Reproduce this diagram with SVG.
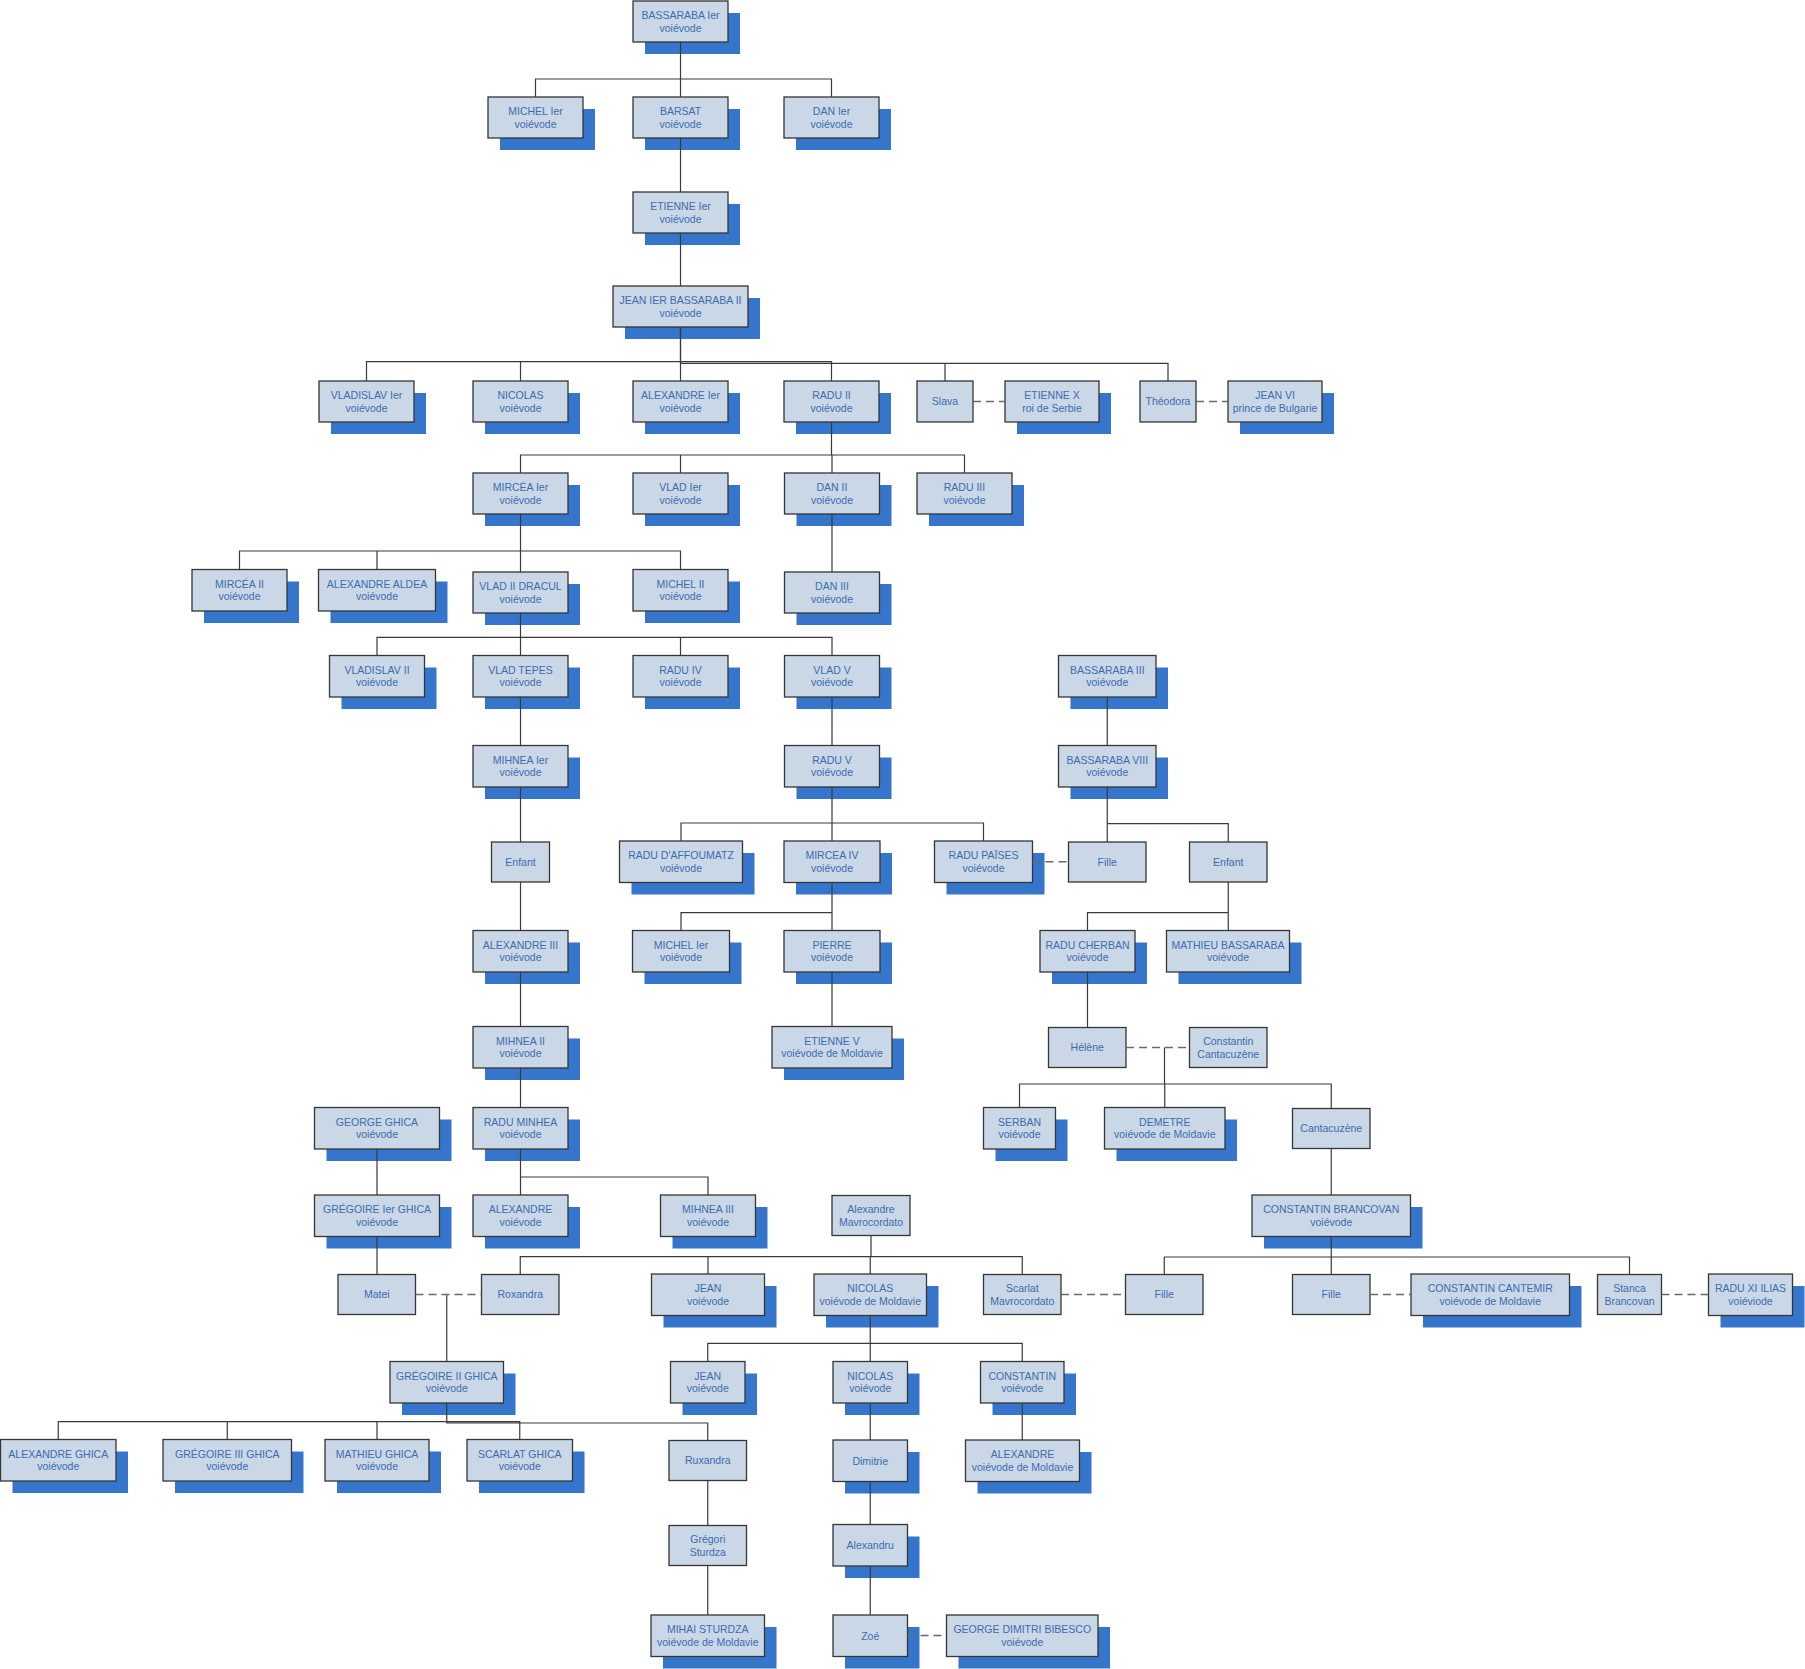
<svg xmlns="http://www.w3.org/2000/svg" width="1805" height="1669" viewBox="0 0 1805 1669">
<style>
.sh{fill:#3576cc}
.bx{fill:#c9d7e6;stroke:#353535;stroke-width:1.3}
text{font-family:"Liberation Sans",Arial,sans-serif;font-size:10.5px;fill:#3d6cb0;text-anchor:middle}
.c{fill:none;stroke:#3a3a3a;stroke-width:1.2}
.d{fill:none;stroke:#6a6a6a;stroke-width:1.4;stroke-dasharray:8,5}
</style>
<rect width="1805" height="1669" fill="#ffffff"/>
<g id="nodes">
<g id="n1"><rect class="sh" x="645" y="13" width="95" height="41"/><rect class="bx" x="633" y="1" width="95" height="41"/><text x="680.5" y="19">BASSARABA Ier</text><text x="680.5" y="31.5">voiévode</text></g>
<g id="n2"><rect class="sh" x="500" y="109" width="95" height="41"/><rect class="bx" x="488" y="97" width="95" height="41"/><text x="535.5" y="115">MICHEL Ier</text><text x="535.5" y="127.5">voiévode</text></g>
<g id="n3"><rect class="sh" x="645" y="109" width="95" height="41"/><rect class="bx" x="633" y="97" width="95" height="41"/><text x="680.5" y="115">BARSAT</text><text x="680.5" y="127.5">voiévode</text></g>
<g id="n4"><rect class="sh" x="796" y="109" width="95" height="41"/><rect class="bx" x="784" y="97" width="95" height="41"/><text x="831.5" y="115">DAN Ier</text><text x="831.5" y="127.5">voiévode</text></g>
<g id="n5"><rect class="sh" x="645" y="204" width="95" height="41"/><rect class="bx" x="633" y="192" width="95" height="41"/><text x="680.5" y="210">ETIENNE Ier</text><text x="680.5" y="222.5">voiévode</text></g>
<g id="n6"><rect class="sh" x="625" y="298" width="135" height="41"/><rect class="bx" x="613" y="286" width="135" height="41"/><text x="680.5" y="304">JEAN IER BASSARABA II</text><text x="680.5" y="316.5">voiévode</text></g>
<g id="n7"><rect class="sh" x="331" y="393" width="95" height="41"/><rect class="bx" x="319" y="381" width="95" height="41"/><text x="366.5" y="399">VLADISLAV Ier</text><text x="366.5" y="411.5">voiévode</text></g>
<g id="n8"><rect class="sh" x="485" y="393" width="95" height="41"/><rect class="bx" x="473" y="381" width="95" height="41"/><text x="520.5" y="399">NICOLAS</text><text x="520.5" y="411.5">voiévode</text></g>
<g id="n9"><rect class="sh" x="645" y="393" width="95" height="41"/><rect class="bx" x="633" y="381" width="95" height="41"/><text x="680.5" y="399">ALEXANDRE Ier</text><text x="680.5" y="411.5">voiévode</text></g>
<g id="n10"><rect class="sh" x="796" y="393" width="95" height="41"/><rect class="bx" x="784" y="381" width="95" height="41"/><text x="831.5" y="399">RADU II</text><text x="831.5" y="411.5">voiévode</text></g>
<g id="n11"><rect class="bx" x="917" y="381" width="56" height="41"/><text x="945" y="405.3">Slava</text></g>
<g id="n12"><rect class="sh" x="1017" y="393" width="94" height="41"/><rect class="bx" x="1005" y="381" width="94" height="41"/><text x="1052" y="399">ETIENNE X</text><text x="1052" y="411.5">roi de Serbie</text></g>
<g id="n13"><rect class="bx" x="1140" y="381" width="56" height="41"/><text x="1168" y="405.3">Théodora</text></g>
<g id="n14"><rect class="sh" x="1240" y="393" width="94" height="41"/><rect class="bx" x="1228" y="381" width="94" height="41"/><text x="1275" y="399">JEAN VI</text><text x="1275" y="411.5">prince de Bulgarie</text></g>
<g id="n15"><rect class="sh" x="485" y="485" width="95" height="41"/><rect class="bx" x="473" y="473" width="95" height="41"/><text x="520.5" y="491">MIRCÉA Ier</text><text x="520.5" y="503.5">voiévode</text></g>
<g id="n16"><rect class="sh" x="645" y="485" width="95" height="41"/><rect class="bx" x="633" y="473" width="95" height="41"/><text x="680.5" y="491">VLAD Ier</text><text x="680.5" y="503.5">voiévode</text></g>
<g id="n17"><rect class="sh" x="796.5" y="485" width="95" height="41"/><rect class="bx" x="784.5" y="473" width="95" height="41"/><text x="832" y="491">DAN II</text><text x="832" y="503.5">voiévode</text></g>
<g id="n18"><rect class="sh" x="929" y="485" width="95" height="41"/><rect class="bx" x="917" y="473" width="95" height="41"/><text x="964.5" y="491">RADU III</text><text x="964.5" y="503.5">voiévode</text></g>
<g id="n19"><rect class="sh" x="204" y="581.5" width="95" height="41.5"/><rect class="bx" x="192" y="569.5" width="95" height="41.5"/><text x="239.5" y="587.5">MIRCÉA II</text><text x="239.5" y="600">voiévode</text></g>
<g id="n20"><rect class="sh" x="330.5" y="581.5" width="117" height="41.5"/><rect class="bx" x="318.5" y="569.5" width="117" height="41.5"/><text x="377" y="587.5">ALEXANDRE ALDEA</text><text x="377" y="600">voiévode</text></g>
<g id="n21"><rect class="sh" x="485" y="584" width="95" height="41"/><rect class="bx" x="473" y="572" width="95" height="41"/><text x="520.5" y="590">VLAD II DRACUL</text><text x="520.5" y="602.5">voiévode</text></g>
<g id="n22"><rect class="sh" x="645" y="581.5" width="95" height="41.5"/><rect class="bx" x="633" y="569.5" width="95" height="41.5"/><text x="680.5" y="587.5">MICHEL II</text><text x="680.5" y="600">voiévode</text></g>
<g id="n23"><rect class="sh" x="796.5" y="584" width="95" height="41"/><rect class="bx" x="784.5" y="572" width="95" height="41"/><text x="832" y="590">DAN III</text><text x="832" y="602.5">voiévode</text></g>
<g id="n24"><rect class="sh" x="341.5" y="667.5" width="95" height="41.5"/><rect class="bx" x="329.5" y="655.5" width="95" height="41.5"/><text x="377" y="673.5">VLADISLAV II</text><text x="377" y="686">voiévode</text></g>
<g id="n25"><rect class="sh" x="485" y="667.5" width="95" height="41.5"/><rect class="bx" x="473" y="655.5" width="95" height="41.5"/><text x="520.5" y="673.5">VLAD TEPES</text><text x="520.5" y="686">voiévode</text></g>
<g id="n26"><rect class="sh" x="645" y="667.5" width="95" height="41.5"/><rect class="bx" x="633" y="655.5" width="95" height="41.5"/><text x="680.5" y="673.5">RADU IV</text><text x="680.5" y="686">voiévode</text></g>
<g id="n27"><rect class="sh" x="796.5" y="667.5" width="95" height="41.5"/><rect class="bx" x="784.5" y="655.5" width="95" height="41.5"/><text x="832" y="673.5">VLAD V</text><text x="832" y="686">voiévode</text></g>
<g id="n28"><rect class="sh" x="1070.5" y="667.5" width="97.5" height="41.5"/><rect class="bx" x="1058.5" y="655.5" width="97.5" height="41.5"/><text x="1107.25" y="673.5">BASSARABA III</text><text x="1107.25" y="686">voiévode</text></g>
<g id="n29"><rect class="sh" x="485" y="757.5" width="95" height="41.5"/><rect class="bx" x="473" y="745.5" width="95" height="41.5"/><text x="520.5" y="763.5">MIHNEA Ier</text><text x="520.5" y="776">voiévode</text></g>
<g id="n30"><rect class="sh" x="796.5" y="757.5" width="95" height="41.5"/><rect class="bx" x="784.5" y="745.5" width="95" height="41.5"/><text x="832" y="763.5">RADU V</text><text x="832" y="776">voiévode</text></g>
<g id="n31"><rect class="sh" x="1070.5" y="757.5" width="97.5" height="41.5"/><rect class="bx" x="1058.5" y="745.5" width="97.5" height="41.5"/><text x="1107.25" y="763.5">BASSARABA VIII</text><text x="1107.25" y="776">voiévode</text></g>
<g id="n32"><rect class="bx" x="491.5" y="842" width="58" height="40"/><text x="520.5" y="865.8">Enfant</text></g>
<g id="n33"><rect class="sh" x="631.5" y="853" width="123" height="41.5"/><rect class="bx" x="619.5" y="841" width="123" height="41.5"/><text x="681" y="859">RADU D'AFFOUMATZ</text><text x="681" y="871.5">voiévode</text></g>
<g id="n34"><rect class="sh" x="796" y="853" width="96" height="41.5"/><rect class="bx" x="784" y="841" width="96" height="41.5"/><text x="832" y="859">MIRCEA IV</text><text x="832" y="871.5">voiévode</text></g>
<g id="n35"><rect class="sh" x="946.5" y="853" width="98" height="41.5"/><rect class="bx" x="934.5" y="841" width="98" height="41.5"/><text x="983.5" y="859">RADU PAÏSES</text><text x="983.5" y="871.5">voiévode</text></g>
<g id="n36"><rect class="bx" x="1068.5" y="842" width="77.5" height="40"/><text x="1107.25" y="865.8">Fille</text></g>
<g id="n37"><rect class="bx" x="1189.5" y="842" width="77.5" height="40"/><text x="1228.25" y="865.8">Enfant</text></g>
<g id="n38"><rect class="sh" x="485" y="942.5" width="95" height="41.5"/><rect class="bx" x="473" y="930.5" width="95" height="41.5"/><text x="520.5" y="948.5">ALEXANDRE III</text><text x="520.5" y="961">voiévode</text></g>
<g id="n39"><rect class="sh" x="644.5" y="942.5" width="97" height="41.5"/><rect class="bx" x="632.5" y="930.5" width="97" height="41.5"/><text x="681" y="948.5">MICHEL Ier</text><text x="681" y="961">voiévode</text></g>
<g id="n40"><rect class="sh" x="796" y="942.5" width="96" height="41.5"/><rect class="bx" x="784" y="930.5" width="96" height="41.5"/><text x="832" y="948.5">PIERRE</text><text x="832" y="961">voiévode</text></g>
<g id="n41"><rect class="sh" x="1052" y="942.5" width="95" height="41.5"/><rect class="bx" x="1040" y="930.5" width="95" height="41.5"/><text x="1087.5" y="948.5">RADU CHERBAN</text><text x="1087.5" y="961">voiévode</text></g>
<g id="n42"><rect class="sh" x="1178.5" y="942.5" width="123" height="41.5"/><rect class="bx" x="1166.5" y="930.5" width="123" height="41.5"/><text x="1228" y="948.5">MATHIEU BASSARABA</text><text x="1228" y="961">voiévode</text></g>
<g id="n43"><rect class="sh" x="485" y="1038.5" width="95" height="41.5"/><rect class="bx" x="473" y="1026.5" width="95" height="41.5"/><text x="520.5" y="1044.5">MIHNEA II</text><text x="520.5" y="1057">voiévode</text></g>
<g id="n44"><rect class="sh" x="784" y="1038.5" width="120" height="41.5"/><rect class="bx" x="772" y="1026.5" width="120" height="41.5"/><text x="832" y="1044.5">ETIENNE V</text><text x="832" y="1057">voiévode de Moldavie</text></g>
<g id="n45"><rect class="bx" x="1048.5" y="1027.5" width="77.5" height="40"/><text x="1087.25" y="1051.3">Hélène</text></g>
<g id="n46"><rect class="bx" x="1189.5" y="1027.5" width="77.5" height="40"/><text x="1228.25" y="1045">Constantin</text><text x="1228.25" y="1057.5">Cantacuzène</text></g>
<g id="n47"><rect class="sh" x="326.5" y="1119.5" width="125" height="41.5"/><rect class="bx" x="314.5" y="1107.5" width="125" height="41.5"/><text x="377" y="1125.5">GEORGE GHICA</text><text x="377" y="1138">voiévode</text></g>
<g id="n48"><rect class="sh" x="485" y="1119.5" width="95" height="41.5"/><rect class="bx" x="473" y="1107.5" width="95" height="41.5"/><text x="520.5" y="1125.5">RADU MINHEA</text><text x="520.5" y="1138">voiévode</text></g>
<g id="n49"><rect class="sh" x="995.5" y="1119.5" width="72" height="41.5"/><rect class="bx" x="983.5" y="1107.5" width="72" height="41.5"/><text x="1019.5" y="1125.5">SERBAN</text><text x="1019.5" y="1138">voiévode</text></g>
<g id="n50"><rect class="sh" x="1116.5" y="1119.5" width="120.5" height="41.5"/><rect class="bx" x="1104.5" y="1107.5" width="120.5" height="41.5"/><text x="1164.75" y="1125.5">DEMETRE</text><text x="1164.75" y="1138">voiévode de Moldavie</text></g>
<g id="n51"><rect class="bx" x="1292.5" y="1108.5" width="77.5" height="40"/><text x="1331.25" y="1132.3">Cantacuzène</text></g>
<g id="n52"><rect class="sh" x="326.5" y="1207" width="125" height="41.5"/><rect class="bx" x="314.5" y="1195" width="125" height="41.5"/><text x="377" y="1213">GRÉGOIRE Ier GHICA</text><text x="377" y="1225.5">voiévode</text></g>
<g id="n53"><rect class="sh" x="485" y="1207" width="95" height="41.5"/><rect class="bx" x="473" y="1195" width="95" height="41.5"/><text x="520.5" y="1213">ALEXANDRE</text><text x="520.5" y="1225.5">voiévode</text></g>
<g id="n54"><rect class="sh" x="672.5" y="1207" width="95" height="41.5"/><rect class="bx" x="660.5" y="1195" width="95" height="41.5"/><text x="708" y="1213">MIHNEA III</text><text x="708" y="1225.5">voiévode</text></g>
<g id="n55"><rect class="bx" x="832" y="1195.5" width="78" height="40"/><text x="871" y="1213">Alexandre</text><text x="871" y="1225.5">Mavrocordato</text></g>
<g id="n56"><rect class="sh" x="1264" y="1207" width="158.5" height="41.5"/><rect class="bx" x="1252" y="1195" width="158.5" height="41.5"/><text x="1331.25" y="1213">CONSTANTIN BRANCOVAN</text><text x="1331.25" y="1225.5">voiévode</text></g>
<g id="n57"><rect class="bx" x="338" y="1274.5" width="77.5" height="40"/><text x="376.75" y="1298.3">Matei</text></g>
<g id="n58"><rect class="bx" x="481.5" y="1274.5" width="77.5" height="40"/><text x="520.25" y="1298.3">Roxandra</text></g>
<g id="n59"><rect class="sh" x="663.5" y="1286" width="113" height="41.5"/><rect class="bx" x="651.5" y="1274" width="113" height="41.5"/><text x="708" y="1292">JEAN</text><text x="708" y="1304.5">voiévode</text></g>
<g id="n60"><rect class="sh" x="826" y="1286" width="112.5" height="41.5"/><rect class="bx" x="814" y="1274" width="112.5" height="41.5"/><text x="870.25" y="1292">NICOLAS</text><text x="870.25" y="1304.5">voiévode de Moldavie</text></g>
<g id="n61"><rect class="bx" x="983.5" y="1274.5" width="77.5" height="40"/><text x="1022.25" y="1292">Scarlat</text><text x="1022.25" y="1304.5">Mavrocordato</text></g>
<g id="n62"><rect class="bx" x="1125.5" y="1274.5" width="77.5" height="40"/><text x="1164.25" y="1298.3">Fille</text></g>
<g id="n63"><rect class="bx" x="1292.5" y="1274.5" width="77.5" height="40"/><text x="1331.25" y="1298.3">Fille</text></g>
<g id="n64"><rect class="sh" x="1423" y="1286" width="158.5" height="41.5"/><rect class="bx" x="1411" y="1274" width="158.5" height="41.5"/><text x="1490.25" y="1292">CONSTANTIN CANTEMIR</text><text x="1490.25" y="1304.5">voiévode de Moldavie</text></g>
<g id="n65"><rect class="bx" x="1597.5" y="1274.5" width="64" height="40"/><text x="1629.5" y="1292">Stanca</text><text x="1629.5" y="1304.5">Brancovan</text></g>
<g id="n66"><rect class="sh" x="1720.5" y="1286" width="84" height="41.5"/><rect class="bx" x="1708.5" y="1274" width="84" height="41.5"/><text x="1750.5" y="1292">RADU XI ILIAS</text><text x="1750.5" y="1304.5">voiéviode</text></g>
<g id="n67"><rect class="sh" x="402" y="1373.5" width="113.5" height="41.5"/><rect class="bx" x="390" y="1361.5" width="113.5" height="41.5"/><text x="446.75" y="1379.5">GRÉGOIRE II GHICA</text><text x="446.75" y="1392">voiévode</text></g>
<g id="n68"><rect class="sh" x="682.5" y="1373.5" width="74.5" height="41.5"/><rect class="bx" x="670.5" y="1361.5" width="74.5" height="41.5"/><text x="707.75" y="1379.5">JEAN</text><text x="707.75" y="1392">voiévode</text></g>
<g id="n69"><rect class="sh" x="845" y="1373.5" width="74.5" height="41.5"/><rect class="bx" x="833" y="1361.5" width="74.5" height="41.5"/><text x="870.25" y="1379.5">NICOLAS</text><text x="870.25" y="1392">voiévode</text></g>
<g id="n70"><rect class="sh" x="992.5" y="1373.5" width="83.5" height="41.5"/><rect class="bx" x="980.5" y="1361.5" width="83.5" height="41.5"/><text x="1022.25" y="1379.5">CONSTANTIN</text><text x="1022.25" y="1392">voiévode</text></g>
<g id="n71"><rect class="sh" x="12.5" y="1451.5" width="115.5" height="41.5"/><rect class="bx" x="0.5" y="1439.5" width="115.5" height="41.5"/><text x="58.25" y="1457.5">ALEXANDRE GHICA</text><text x="58.25" y="1470">voiévode</text></g>
<g id="n72"><rect class="sh" x="175" y="1451.5" width="128.5" height="41.5"/><rect class="bx" x="163" y="1439.5" width="128.5" height="41.5"/><text x="227.25" y="1457.5">GRÉGOIRE III GHICA</text><text x="227.25" y="1470">voiévode</text></g>
<g id="n73"><rect class="sh" x="337" y="1451.5" width="104" height="41.5"/><rect class="bx" x="325" y="1439.5" width="104" height="41.5"/><text x="377" y="1457.5">MATHIEU GHICA</text><text x="377" y="1470">voiévode</text></g>
<g id="n74"><rect class="sh" x="479" y="1451.5" width="105.5" height="41.5"/><rect class="bx" x="467" y="1439.5" width="105.5" height="41.5"/><text x="519.75" y="1457.5">SCARLAT GHICA</text><text x="519.75" y="1470">voiévode</text></g>
<g id="n75"><rect class="bx" x="669" y="1440.5" width="77.5" height="40"/><text x="707.75" y="1464.3">Ruxandra</text></g>
<g id="n76"><rect class="sh" x="845" y="1452" width="74.5" height="41.5"/><rect class="bx" x="833" y="1440" width="74.5" height="41.5"/><text x="870.25" y="1464.5">Dimitrie</text></g>
<g id="n77"><rect class="sh" x="977.5" y="1452" width="114" height="41.5"/><rect class="bx" x="965.5" y="1440" width="114" height="41.5"/><text x="1022.5" y="1458">ALEXANDRE</text><text x="1022.5" y="1470.5">voiévode de Moldavie</text></g>
<g id="n78"><rect class="bx" x="669" y="1525.5" width="77.5" height="40"/><text x="707.75" y="1543">Grégori</text><text x="707.75" y="1555.5">Sturdza</text></g>
<g id="n79"><rect class="sh" x="845" y="1536.5" width="74.5" height="41.5"/><rect class="bx" x="833" y="1524.5" width="74.5" height="41.5"/><text x="870.25" y="1549">Alexandru</text></g>
<g id="n80"><rect class="sh" x="663" y="1627" width="113.5" height="41.5"/><rect class="bx" x="651" y="1615" width="113.5" height="41.5"/><text x="707.75" y="1633">MIHAI STURDZA</text><text x="707.75" y="1645.5">voiévode de Moldavie</text></g>
<g id="n81"><rect class="sh" x="845" y="1627" width="74.5" height="41.5"/><rect class="bx" x="833" y="1615" width="74.5" height="41.5"/><text x="870.25" y="1639.5">Zoé</text></g>
<g id="n82"><rect class="sh" x="958.5" y="1627" width="151.5" height="41.5"/><rect class="bx" x="946.5" y="1615" width="151.5" height="41.5"/><text x="1022.25" y="1633">GEORGE DIMITRI BIBESCO</text><text x="1022.25" y="1645.5">voiévode</text></g>
</g>
<g id="connectors">
<path class="c" d="M680.5,42V79H535.5V97M680.5,79H831.5V97M680.5,42V97"/>
<path class="c" d="M680.5,138V192M680.5,233V286"/>
<path class="c" d="M680.5,327V361.7H366.5V381M520.5,361.7V381M680.5,361.7V381M680.5,361.7H831.5V381"/>
<path class="c" d="M680.5,327V363.3H1168V381M945,363.3V381"/>
<path class="c" d="M831.5,422V455H520.5V473M680.5,455V473M831.5,455H964.5V473M832,455V473"/>
<path class="c" d="M520.5,514V551H239.5V569.5M377,551V569.5M520.5,551V572M520.5,551H680.5V569.5"/>
<path class="c" d="M832,514V572"/>
<path class="c" d="M520.5,613V637.3H377V655.5M520.5,637.3V655.5M520.5,637.3H832V655.5M680.5,637.3V655.5"/>
<path class="c" d="M520.5,697V745.5M832,697V745.5M1107.25,697V745.5"/>
<path class="c" d="M520.5,787V842M520.5,882V930.5M520.5,972V1026.5M520.5,1068V1107.5"/>
<path class="c" d="M832,787V823H681V841M832,823V841M832,823H983.5V841"/>
<path class="c" d="M1107.25,787V823.7V842M1107.25,823.7H1228.25V842"/>
<path class="c" d="M832,882.5V912.7H681V930.5M832,912.7V930.5"/>
<path class="c" d="M1228.25,882V912.7H1087.5V930.5M1228.25,912.7V930.5"/>
<path class="c" d="M832,972V1026.5M1087.5,972V1027.5"/>
<path class="c" d="M1164.5,1047.5V1084H1019.5V1107.5M1164.75,1084V1107.5M1164.5,1084H1331.25V1108.5"/>
<path class="c" d="M377,1149V1195M377,1236.5V1274.5"/>
<path class="c" d="M520.5,1149V1177V1195M520.5,1177H708V1195"/>
<path class="c" d="M1331.25,1148.5V1195"/>
<path class="c" d="M871,1235.5V1256.7H520.25V1274.5M708,1256.7V1274M871,1256.7H1022.25V1274.5M870.25,1256.7V1274"/>
<path class="c" d="M1331.25,1236.5V1257H1164.25V1274.5M1331.25,1257V1274.5M1331.25,1257H1629.5V1274.5"/>
<path class="c" d="M446.75,1294.5V1361.5"/>
<path class="c" d="M870.25,1315.5V1343.3H707.75V1361.5M870.25,1343.3V1361.5M870.25,1343.3H1022.25V1361.5"/>
<path class="c" d="M446.75,1403V1421.7H58.25V1439.5M227.25,1421.7V1439.5M377,1421.7V1439.5M446.75,1421.7H519.75V1439.5M446.75,1403V1423H707.75V1440.5"/>
<path class="c" d="M870.25,1403V1440M1022.25,1403V1440"/>
<path class="c" d="M707.75,1480.5V1525.5M870.25,1481.5V1524.5M707.75,1565.5V1615M870.25,1566V1615"/>
<path class="d" d="M973,401.5H1005M1196,401.5H1228M1032.5,861.8H1068.5M1126,1047.5H1189.5M415.5,1294.5H481.5M1061,1294.5H1125.5M1370,1294.5H1411M1661.5,1294.5H1708.5M907.5,1635.5H946.5"/>
</g>
</svg>
